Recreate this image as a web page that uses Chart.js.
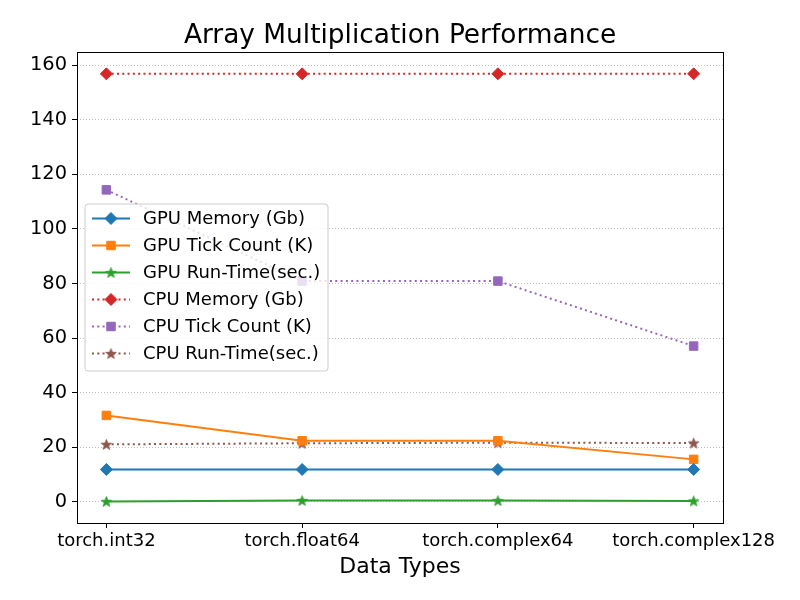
<!DOCTYPE html>
<html>
<head>
<meta charset="utf-8">
<script src="https://cdn.jsdelivr.net/npm/chart.js@4.4.1/dist/chart.umd.min.js"></script>
<style>
html,body{margin:0;padding:0;background:#fff;}
#wrap{width:800px;height:600px;}
</style>
</head>
<body>
<div id="wrap"><canvas id="c" width="800" height="600"></canvas></div>
<script>
const categories = ['torch.int32', 'torch.float64', 'torch.complex64', 'torch.complex128'];
const gpuMemory = [11.9, 11.9, 11.9, 11.9];
const gpuTickCount = [31.7, 22.4, 22.4, 15.6];
const gpuRunTime = [0.2, 0.55, 0.5, 0.4];
const cpuMemory = [156.8, 156.8, 156.8, 156.8];
const cpuTickCount = [114.3, 80.9, 80.9, 57.1];
const cpuRunTime = [21.1, 21.5, 21.7, 21.6];
const yTicks = [0, 20, 40, 60, 80, 100, 120, 140, 160];

const FONT = "'DejaVu Sans', sans-serif";

function makeStar(color, R) {
  const s = Math.ceil(R * 2 + 4);
  const cv = document.createElement('canvas');
  cv.width = s; cv.height = s;
  const g = cv.getContext('2d');
  const cx = s / 2, cy = s / 2 + R * 0.1;
  const r = R * 0.42;
  g.beginPath();
  for (let i = 0; i < 10; i++) {
    const a = -Math.PI / 2 + i * Math.PI / 5;
    const rr = i % 2 === 0 ? R : r;
    const px = cx + rr * Math.cos(a), py = cy + rr * Math.sin(a);
    if (i === 0) g.moveTo(px, py); else g.lineTo(px, py);
  }
  g.closePath();
  g.fillStyle = color;
  g.fill();
  g.lineWidth = 0.8;
  g.strokeStyle = color;
  g.stroke();
  return cv;
}

const C = {
  blue: '#1f77b4', orange: '#ff7f0e', green: '#2ca02c',
  red: '#d62728', purple: '#9467bd', brown: '#8c564b'
};
const greenStar = makeStar(C.green, 5.5);
const brownStar = makeStar(C.brown, 5.5);

function pts(arr) { return arr.map((v, i) => ({x: i, y: v})); }

const dotted = [2, 3.3];
function ds(label, data, color, style, radius, dash) {
  return {
    label: label,
    data: pts(data),
    borderColor: color,
    backgroundColor: color,
    pointBackgroundColor: color,
    pointBorderColor: color,
    pointBorderWidth: 1,
    pointStyle: style,
    pointRadius: radius,
    pointHoverRadius: radius,
    borderWidth: 2,
    borderDash: dash || [],
    tension: 0,
    fill: false,
    yAxisID: 'y'
  };
}

const datasets = [
  ds('GPU Memory (Gb)', gpuMemory, C.blue, 'rectRot', 6),
  ds('GPU Tick Count (K)', gpuTickCount, C.orange, 'rect', 6),
  ds('GPU Run-Time(sec.)', gpuRunTime, C.green, greenStar, 5),
  ds('CPU Memory (Gb)', cpuMemory, C.red, 'rectRot', 6, dotted),
  ds('CPU Tick Count (K)', cpuTickCount, C.purple, 'rect', 6, dotted),
  ds('CPU Run-Time(sec.)', cpuRunTime, C.brown, brownStar, 5, dotted)
];

const framePlugin = {
  id: 'frame',
  afterDraw(chart) {
    const a = chart.chartArea, ctx = chart.ctx;
    ctx.save();
    ctx.strokeStyle = '#000';
    ctx.lineWidth = 1;
    ctx.strokeRect(Math.round(a.left) + 0.5, Math.round(a.top) + 0.5, Math.round(a.right - a.left), Math.round(a.bottom - a.top));
    ctx.restore();
  }
};

const legendPlugin = {
  id: 'boxLegend',
  afterDatasetsDraw(chart) {
    const ctx = chart.ctx;
    const x0 = 85, y0 = 204, w = 243, h = 167, rowH = 27, firstY = 218.5;
    ctx.save();
    ctx.beginPath();
    const r = 3;
    ctx.moveTo(x0 + r, y0);
    ctx.lineTo(x0 + w - r, y0); ctx.quadraticCurveTo(x0 + w, y0, x0 + w, y0 + r);
    ctx.lineTo(x0 + w, y0 + h - r); ctx.quadraticCurveTo(x0 + w, y0 + h, x0 + w - r, y0 + h);
    ctx.lineTo(x0 + r, y0 + h); ctx.quadraticCurveTo(x0, y0 + h, x0, y0 + h - r);
    ctx.lineTo(x0, y0 + r); ctx.quadraticCurveTo(x0, y0, x0 + r, y0);
    ctx.closePath();
    ctx.fillStyle = 'rgba(255,255,255,0.8)';
    ctx.fill();
    ctx.strokeStyle = '#cccccc';
    ctx.lineWidth = 1;
    ctx.stroke();
    chart.data.datasets.forEach((d, i) => {
      const y = firstY + i * rowH;
      ctx.save();
      ctx.strokeStyle = d.borderColor;
      ctx.lineWidth = 2;
      ctx.setLineDash(d.borderDash || []);
      ctx.beginPath();
      ctx.moveTo(92, y); ctx.lineTo(130, y);
      ctx.stroke();
      ctx.restore();
      ctx.save();
      ctx.fillStyle = d.pointBackgroundColor;
      ctx.strokeStyle = d.pointBorderColor;
      ctx.lineWidth = 1;
      Chart.helpers.drawPoint(ctx, {pointStyle: d.pointStyle, radius: d.pointRadius, rotation: 0, borderWidth: 1}, 111, y);
      ctx.restore();
      ctx.fillStyle = '#000';
      ctx.font = '18px ' + FONT;
      ctx.textBaseline = 'middle';
      ctx.textAlign = 'left';
      ctx.fillText(d.label, 143, y + 1);
    });
    ctx.restore();
  }
};

new Chart(document.getElementById('c'), {
  type: 'line',
  data: { datasets: datasets },
  plugins: [framePlugin, legendPlugin],
  options: {
    responsive: false,
    animation: false,
    events: [],
    layout: { padding: 0 },
    plugins: {
      legend: { display: false },
      tooltip: { enabled: false },
      title: {
        display: true,
        text: 'Array Multiplication Performance',
        color: '#000',
        font: { family: FONT, size: 26.4, weight: 'normal', lineHeight: 1.2 },
        padding: { top: 20, bottom: 0.3 }
      }
    },
    scales: {
      x: {
        type: 'linear',
        min: -0.15,
        max: 3.15,
        afterBuildTicks(scale) { scale.ticks = categories.map((c, i) => ({value: i})); },
        afterFit(scale) { scale.height = 77; },
        ticks: {
          callback: (v) => categories[v] !== undefined ? categories[v] : '',
          color: '#000',
          font: { family: FONT, size: 18 },
          padding: 3,
          maxRotation: 0,
          autoSkip: false
        },
        grid: { display: true, drawOnChartArea: false, drawTicks: true, tickLength: 5, tickColor: '#000', tickWidth: 1 },
        border: { display: false },
        title: {
          display: true,
          text: 'Data Types',
          color: '#000',
          font: { family: FONT, size: 22, lineHeight: 1.2 },
          padding: { top: 0, bottom: 20 }
        }
      },
      y: {
        type: 'linear',
        position: 'left',
        min: -7.7,
        max: 164.8,
        afterBuildTicks(scale) { scale.ticks = yTicks.map(v => ({value: v})); },
        afterFit(scale) { scale.width = 77; },
        ticks: {
          color: '#000',
          font: { family: FONT, size: 19.4 },
          padding: 5
        },
        grid: { display: true, color: '#b0b0b0', lineWidth: 0.8, drawTicks: true, tickLength: 5, tickColor: '#000', tickWidth: 1, tickBorderDash: [] },
        border: { display: false, dash: [1, 2] }
      },
      yRight: {
        type: 'linear',
        position: 'right',
        display: true,
        min: 0,
        max: 1,
        afterFit(scale) { scale.width = 77; },
        ticks: { display: false },
        grid: { display: false, drawTicks: false },
        border: { display: false }
      }
    }
  }
});
</script>
</body>
</html>
